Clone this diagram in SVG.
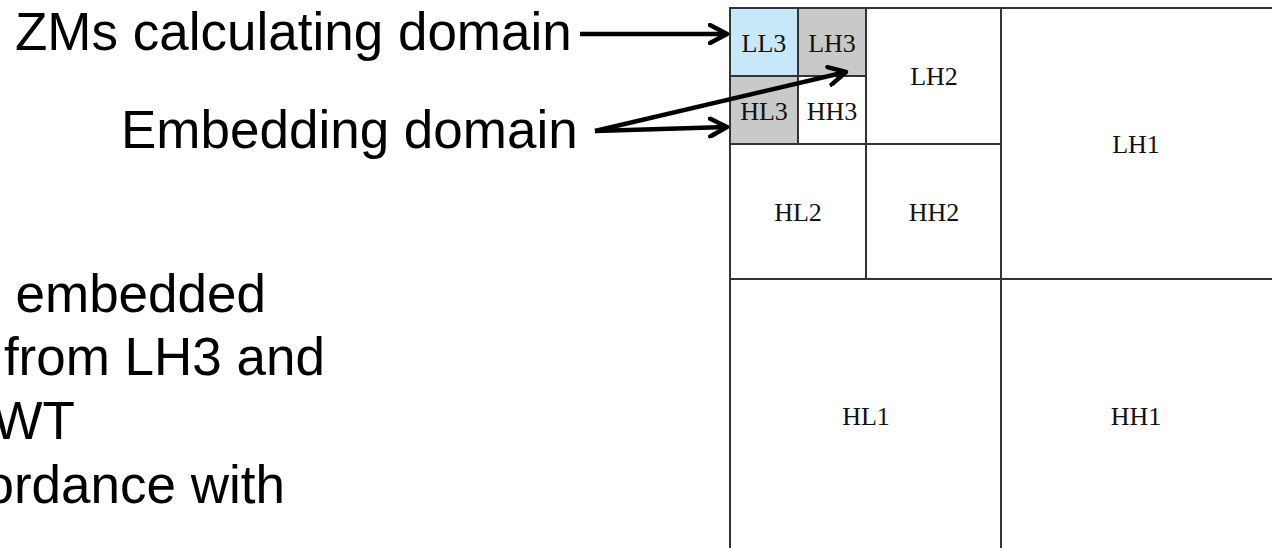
<svg xmlns="http://www.w3.org/2000/svg" width="1272" height="548" viewBox="0 0 1272 548">
<style>
.big{font-family:"Liberation Sans",Arial,sans-serif;font-size:53px;fill:#000}
.lbl{font-family:"Liberation Serif","Times New Roman",serif;font-size:26px;fill:#111;text-anchor:middle}
.grid{stroke:#333;stroke-width:2;fill:none}
.conn{stroke:#000;stroke-width:4.5;fill:none}
</style>
<defs>
<marker id="arr" markerUnits="userSpaceOnUse" viewBox="0 0 22 22" markerWidth="22" markerHeight="22" refX="19" refY="11" orient="auto">
<path d="M2,2 L19,11 L2,20" stroke="#000" stroke-width="4.5" fill="none" stroke-linejoin="round" stroke-linecap="round"/>
</marker>
</defs>
<rect width="1272" height="548" fill="#fff"/>

<g id="text-left">
<text class="big" x="15" y="50">ZMs calculating domain</text>
<text class="big" x="121" y="148">Embedding domain</text>
<text class="big" x="266" y="312" text-anchor="end">embedded</text>
<text class="big" x="325" y="375" text-anchor="end">from LH3 and</text>
<text class="big" x="75" y="439" text-anchor="end">WT</text>
<text class="big" x="285" y="503" text-anchor="end">ordance with</text>
</g>

<g id="LL3"><rect x="730" y="8" width="68" height="68" fill="#c7e8f8"/><text class="lbl" x="764" y="52">LL3</text></g>
<g id="LH3"><rect x="798" y="8" width="68" height="68" fill="#c9c9c9"/><text class="lbl" x="832" y="52">LH3</text></g>
<g id="HL3"><rect x="730" y="76" width="68" height="68" fill="#c9c9c9"/><text class="lbl" x="764" y="120">HL3</text></g>
<g id="HH3"><text class="lbl" x="832" y="120">HH3</text></g>
<g id="LH2"><text class="lbl" x="934" y="85">LH2</text></g>
<g id="HL2"><text class="lbl" x="798" y="221">HL2</text></g>
<g id="HH2"><text class="lbl" x="934" y="221">HH2</text></g>
<g id="LH1"><text class="lbl" x="1136" y="153">LH1</text></g>
<g id="HL1"><text class="lbl" x="866" y="425">HL1</text></g>
<g id="HH1"><text class="lbl" x="1136" y="425">HH1</text></g>

<g id="grid" class="grid">
<path d="M730,560 V8 H1280"/>
<path d="M1001,8 V560 M730,279 H1280"/>
<path d="M866,8 V279 M730,144 H1001"/>
<path d="M798,8 V144 M730,76 H866"/>
</g>

<g id="connectors" class="conn">
<line x1="580" y1="34" x2="727" y2="34" marker-end="url(#arr)"/>
<line x1="595" y1="131" x2="727" y2="127" marker-end="url(#arr)"/>
<line x1="595" y1="131" x2="846" y2="72" marker-end="url(#arr)"/>
</g>
</svg>
